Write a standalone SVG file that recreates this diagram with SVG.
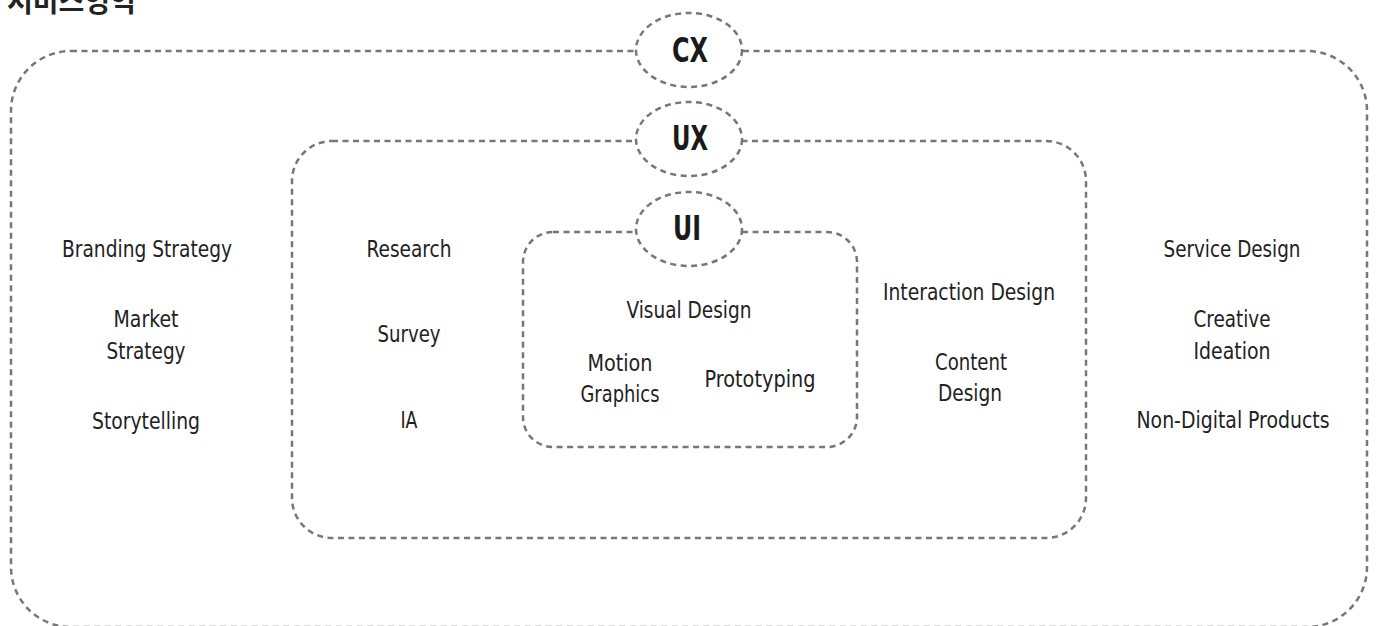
<svg xmlns="http://www.w3.org/2000/svg" width="1377" height="626" viewBox="0 0 1377 626">
<style>
.box{fill:none;stroke:#777;stroke-width:2.5;stroke-dasharray:6 4.5}
.bub{fill:#fff;stroke:#777;stroke-width:2.5;stroke-dasharray:6 4.5}
.t{font-family:"DejaVu Sans Condensed","DejaVu Sans","Liberation Sans",sans-serif;font-size:23px;fill:#222;text-anchor:middle}
.h{font-family:"DejaVu Sans Condensed","DejaVu Sans","Liberation Sans",sans-serif;font-size:34px;font-weight:bold;fill:#1a1a1a;text-anchor:middle}
.k{font-family:"Noto Sans CJK KR","Noto Sans",sans-serif;font-size:28px;font-weight:bold;fill:#222}
</style>
<text class="k" x="7" y="12">서비스영역</text>
<g id="connectors"></g>
<g id="cx-box"><rect class="box" x="11" y="51" width="1356" height="576" rx="60"/></g>
<g id="ux-box"><rect class="box" x="292" y="141" width="794" height="397" rx="40"/></g>
<g id="ui-box"><rect class="box" x="523" y="232" width="334" height="215" rx="30"/></g>
<g id="cx"><ellipse class="bub" cx="689" cy="50" rx="53" ry="37"/><text class="h" x="690" y="62" textLength="36" lengthAdjust="spacingAndGlyphs">CX</text></g>
<g id="ux"><ellipse class="bub" cx="689" cy="139" rx="53" ry="37"/><text class="h" x="690" y="150" textLength="36" lengthAdjust="spacingAndGlyphs">UX</text></g>
<g id="ui"><ellipse class="bub" cx="689" cy="229" rx="53" ry="37"/><text class="h" x="687" y="240" textLength="28" lengthAdjust="spacingAndGlyphs">UI</text></g>
<g id="cx-items">
<text class="t" x="147" y="257" textLength="170" lengthAdjust="spacingAndGlyphs">Branding Strategy</text>
<text class="t" x="146" y="327" textLength="65" lengthAdjust="spacingAndGlyphs">Market</text>
<text class="t" x="146" y="359" textLength="79" lengthAdjust="spacingAndGlyphs">Strategy</text>
<text class="t" x="146" y="429" textLength="108" lengthAdjust="spacingAndGlyphs">Storytelling</text>
<text class="t" x="1232" y="257" textLength="137" lengthAdjust="spacingAndGlyphs">Service Design</text>
<text class="t" x="1232" y="327" textLength="77" lengthAdjust="spacingAndGlyphs">Creative</text>
<text class="t" x="1232" y="359" textLength="77" lengthAdjust="spacingAndGlyphs">Ideation</text>
<text class="t" x="1233" y="428" textLength="193" lengthAdjust="spacingAndGlyphs">Non-Digital Products</text>
</g>
<g id="ux-items">
<text class="t" x="409" y="257" textLength="85" lengthAdjust="spacingAndGlyphs">Research</text>
<text class="t" x="409" y="342" textLength="63" lengthAdjust="spacingAndGlyphs">Survey</text>
<text class="t" x="409" y="428" textLength="17" lengthAdjust="spacingAndGlyphs">IA</text>
<text class="t" x="969" y="300" textLength="172" lengthAdjust="spacingAndGlyphs">Interaction Design</text>
<text class="t" x="971" y="370" textLength="72" lengthAdjust="spacingAndGlyphs">Content</text>
<text class="t" x="970" y="401" textLength="64" lengthAdjust="spacingAndGlyphs">Design</text>
</g>
<g id="ui-items">
<text class="t" x="689" y="318" textLength="125" lengthAdjust="spacingAndGlyphs">Visual Design</text>
<text class="t" x="620" y="371" textLength="65" lengthAdjust="spacingAndGlyphs">Motion</text>
<text class="t" x="620" y="402" textLength="79" lengthAdjust="spacingAndGlyphs">Graphics</text>
<text class="t" x="760" y="387" textLength="111" lengthAdjust="spacingAndGlyphs">Prototyping</text>
</g>
</svg>
